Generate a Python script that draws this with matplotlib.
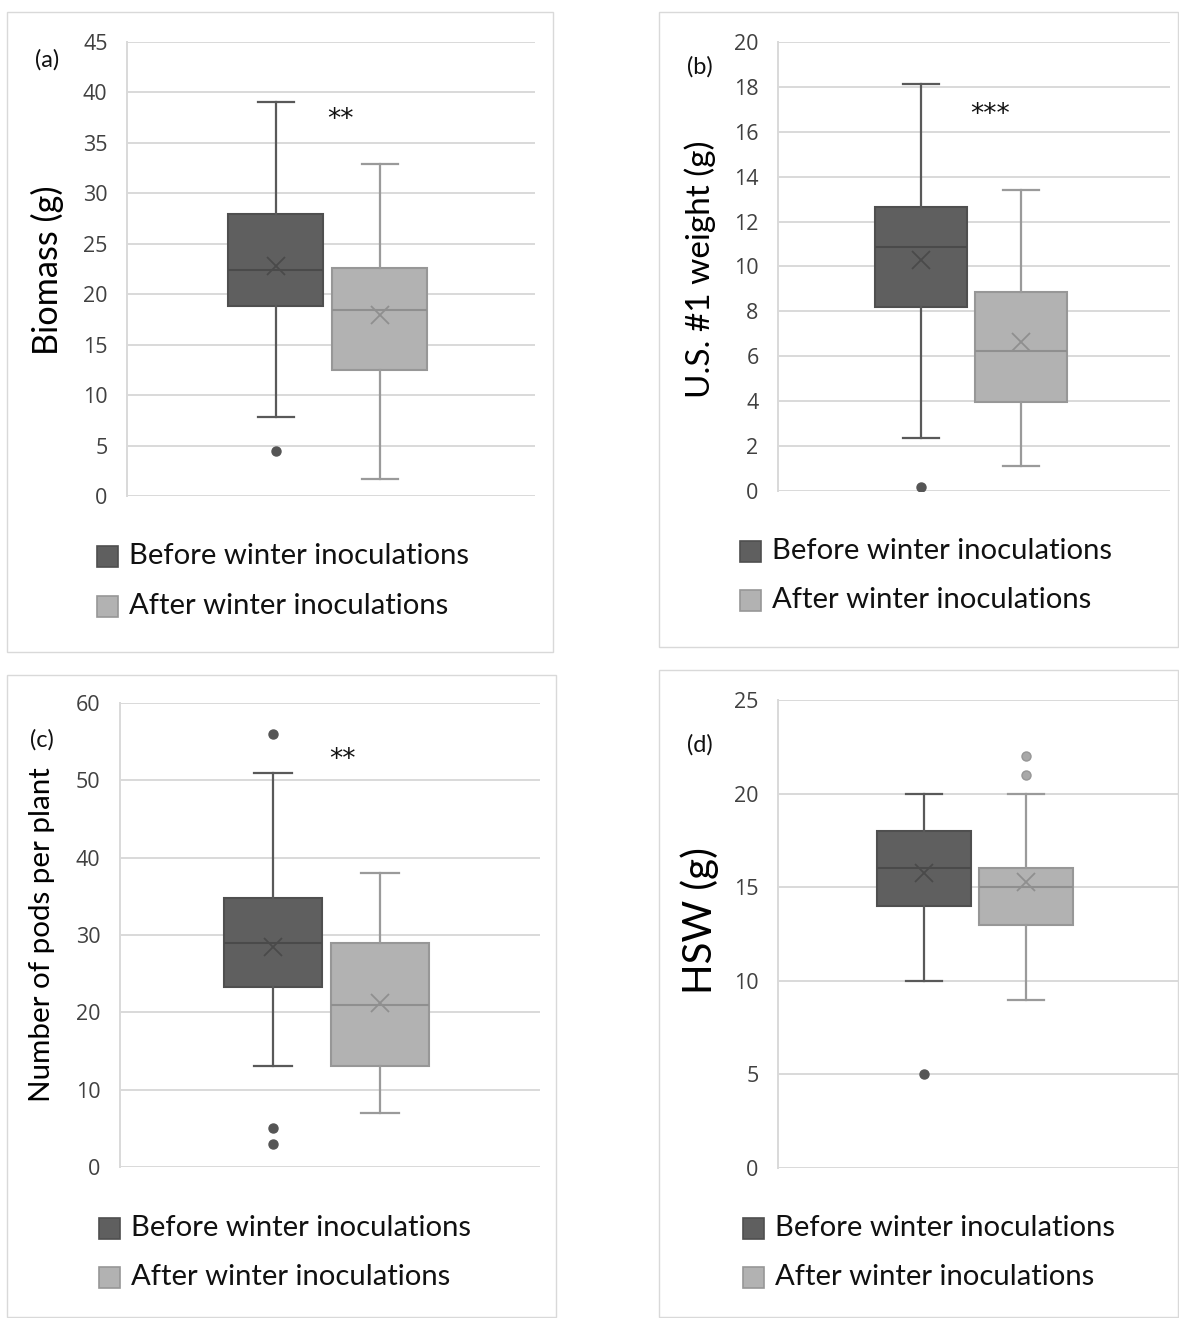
import matplotlib
matplotlib.use("Agg")
import matplotlib.pyplot as plt
from matplotlib.patches import Rectangle

# ---------------- data ----------------
panel_tags = ["(a)", "(b)", "(c)", "(d)"]
y_labels = ["Biomass (g)", "U.S. #1 weight (g)", "Number of pods per plant", "HSW (g)"]
y_max = [45, 20, 60, 25]
y_step = [5, 2, 10, 5]
series_names = ["Before winter inoculations", "After winter inoculations"]

before_q1 = [18.8, 8.2, 23.3, 14.0]
before_med = [22.4, 10.86, 29.0, 16.0]
before_q3 = [28.0, 12.63, 34.8, 18.0]
before_lo = [7.8, 2.36, 13.0, 10.0]
before_hi = [39.1, 18.15, 51.0, 20.0]
before_mean = [22.8, 10.28, 28.4, 15.75]
before_out = [[4.5], [0.2], [56, 5, 3], [5]]

after_q1 = [12.5, 3.98, 13.0, 13.0]
after_med = [18.4, 6.25, 21.0, 15.0]
after_q3 = [22.6, 8.85, 29.0, 16.0]
after_lo = [1.65, 1.13, 7.0, 9.0]
after_hi = [32.9, 13.4, 38.0, 20.0]
after_mean = [17.95, 6.62, 21.2, 15.28]
after_out = [[], [], [], [21, 22]]

stars = ["**", "***", "**", ""]
star_y = [37.3, 16.75, 52.6, None]
star_x = [0.522, 0.541, 0.529, None]

# ---------------- style ----------------
dark_fill, dark_edge, dark_line = "#5f5f5f", "#4f4f4f", "#595959"
light_fill, light_edge, light_line = "#b2b2b2", "#979797", "#9a9a9a"
grid_c = "#d9d9d9"
tick_c = "#404040"
FONT = ["Lato", "DejaVu Sans"]
plt.rcParams["font.family"] = FONT

W, H = 1179, 1318
fig = plt.figure(figsize=(W / 100, H / 100), dpi=100)

# layout in pixels: axes left, right, top, bottom
ax_px = [(127, 535, 42, 496), (778, 1170, 42, 491), (120, 540, 703, 1167), (778, 1178, 700, 1168)]
border_px = [(7, 553, 12, 652), (659, 1178, 12, 647), (7, 556, 675, 1317), (659, 1178, 670, 1317)]
tag_px = [(47, 60), (700, 67), (42, 740), (700, 745)]
ylab_px = [(47, 270), (700, 269), (42, 935), (700, 921)]
ylab_len = [170, 258, 334, 147]
leg_px = [(97, 556, 606), (740, 551, 600), (99, 1228, 1277), (743, 1228, 1277)]
positions = [0.365, 0.62]
bw = 0.233


def fit_text(t, target):
    fig.canvas.draw()
    ext = t.get_window_extent(renderer=fig.canvas.get_renderer())
    L = max(ext.width, ext.height)
    t.set_fontsize(t.get_fontsize() * target / L)


txt_fs = 20
for i in range(4):
    l, r, t_, b = ax_px[i]
    ax = fig.add_axes([l / W, 1 - b / H, (r - l) / W, (b - t_) / H])
    stats = [
        dict(med=before_med[i], q1=before_q1[i], q3=before_q3[i], whislo=before_lo[i],
             whishi=before_hi[i], mean=before_mean[i], fliers=before_out[i]),
        dict(med=after_med[i], q1=after_q1[i], q3=after_q3[i], whislo=after_lo[i],
             whishi=after_hi[i], mean=after_mean[i], fliers=after_out[i]),
    ]
    cols = [(dark_fill, dark_edge, dark_line, "#4a4a4a", "#555555", "#555555"),
            (light_fill, light_edge, light_line, "#8f8f8f", "#a8a8a8", "#969696")]
    for k in range(2):
        fc, ec, lc, mc, ffc, fec = cols[k]
        ax.bxp([stats[k]], positions=[positions[k]], widths=bw, capwidths=0.09,
               patch_artist=True, showmeans=True, showfliers=True,
               boxprops=dict(facecolor=fc, edgecolor=ec, linewidth=1.5),
               medianprops=dict(color=mc, linewidth=1.5),
               whiskerprops=dict(color=lc, linewidth=1.6),
               capprops=dict(color=lc, linewidth=1.6),
               meanprops=dict(marker="x", markersize=13, markeredgecolor=mc, markeredgewidth=1.3),
               flierprops=dict(marker="o", markersize=6.5, markerfacecolor=ffc,
                               markeredgecolor=fec, markeredgewidth=1.0),
               manage_ticks=False, zorder=3)
    ax.set_xlim(0, 1)
    ax.set_ylim(0, y_max[i])
    ax.set_yticks(range(0, y_max[i] + 1, y_step[i]))
    ax.set_xticks([])
    ax.yaxis.grid(True, color=grid_c, linewidth=1.4)
    ax.set_axisbelow(True)
    for s in ["top", "right", "bottom"]:
        ax.spines[s].set_visible(False)
    ax.spines["left"].set_color(grid_c)
    ax.spines["left"].set_linewidth(1.4)
    ax.tick_params(axis="y", length=0, pad=14, labelsize=15.5, labelcolor=tick_c)
    for lab in ax.get_yticklabels():
        lab.set_fontfamily(["Open Sans", "DejaVu Sans"])
    if stars[i]:
        ax.text(star_x[i], star_y[i], stars[i], ha="center", va="center", fontsize=19,
                fontfamily=["DejaVu Sans"], color="#111111")

    # panel border
    bl, br, bt, bb = border_px[i]
    fig.add_artist(Rectangle((bl / W, 1 - bb / H), (br - bl) / W, (bb - bt) / H,
                             transform=fig.transFigure, fill=False, edgecolor=grid_c, linewidth=1.0))
    # panel tag
    fig.text(tag_px[i][0] / W, 1 - tag_px[i][1] / H, panel_tags[i], ha="center", va="center",
             fontsize=17, color="#111111")
    # y label
    yl = fig.text(ylab_px[i][0] / W, 1 - ylab_px[i][1] / H, y_labels[i], ha="center", va="center",
                  rotation=90, fontsize=24, color="#000000")
    fit_text(yl, ylab_len[i])
    # legend
    lx, ly1, ly2 = leg_px[i]
    for k, yy in enumerate([ly1, ly2]):
        fc, ec = (dark_fill, dark_edge) if k == 0 else (light_fill, light_edge)
        fig.add_artist(Rectangle((lx / W, 1 - (yy + 10.5) / H), 21 / W, 21 / H,
                                 transform=fig.transFigure, facecolor=fc, edgecolor=ec, linewidth=1.2))
        tx = fig.text((lx + 32) / W, 1 - yy / H, series_names[k], ha="left", va="center",
                      fontsize=20, color="#111111")
        if k == 0:
            fit_text(tx, 341)
            txt_fs = tx.get_fontsize()
        else:
            tx.set_fontsize(txt_fs)

fig.savefig("out.png", dpi=100, facecolor="white")
